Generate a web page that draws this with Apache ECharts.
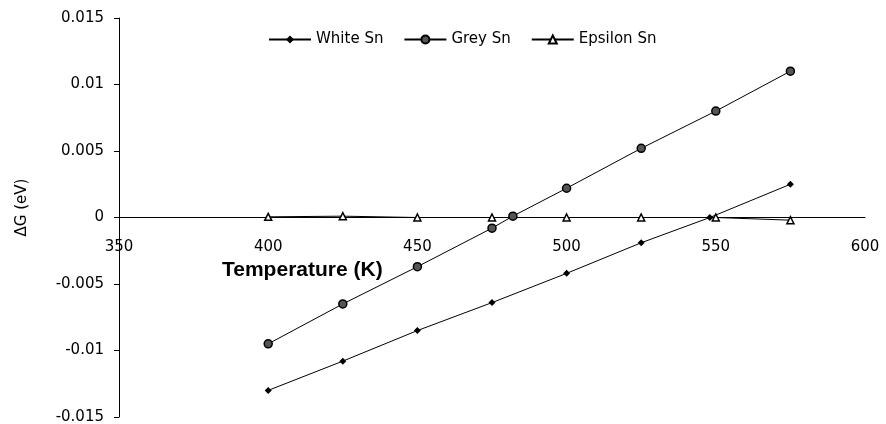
<!DOCTYPE html>
<html>
<head>
<meta charset="utf-8">
<script src="https://cdn.jsdelivr.net/npm/echarts@6/dist/echarts.min.js"></script>
<style>
html,body{margin:0;padding:0;background:#fff;}
#chart{width:886px;height:424px;}
</style>
</head>
<body>
<div id="chart"></div>
<script>
// Data
const xTicks = [350, 400, 450, 500, 550, 600];
const yTicks = [-0.015, -0.01, -0.005, 0, 0.005, 0.01, 0.015];

const whiteT = [400, 425, 450, 475, 500, 525, 548, 575];
const whiteG = [-0.0130, -0.0108, -0.0085, -0.0064, -0.0042, -0.0019, 0.0000, 0.0025];

const greyT = [400, 425, 450, 475, 482, 500, 525, 550, 575];
const greyG = [-0.0095, -0.0065, -0.0037, -0.0008, 0.0001, 0.0022, 0.0052, 0.0080, 0.0110];

const epsT = [400, 425, 450, 475, 500, 525, 550, 575];
const epsG = [0.00005, 0.0001, 0.0000, 0.0000, 0.0000, 0.0000, 0.0000, -0.0002];

const seriesNames = ['White Sn', 'Grey Sn', 'Epsilon Sn'];

function pairs(xs, ys) { return xs.map((x, i) => [x, ys[i]]); }

const chart = echarts.init(document.getElementById('chart'));
const FONT = 'Liberation Sans, Arial, sans-serif';
const WFONT = 'DejaVu Sans, Verdana, sans-serif';
const xMin = xTicks[0], xMax = xTicks[xTicks.length - 1];
const yMin = yTicks[0], yMax = yTicks[yTicks.length - 1];
chart.setOption({
  animation: false,
  backgroundColor: '#fff',
  textStyle: { fontFamily: FONT, color: '#000' },
  grid: [
    { left: 119, right: 21, top: 18, bottom: 7, outerBoundsMode: 'none', containLabel: false },
    // label strip: its bottom edge sits on the zero line of the main plot
    { left: 119, right: 21, top: 18, bottom: 206.5, outerBoundsMode: 'none', containLabel: false }
  ],
  legend: {
    data: seriesNames,
    left: 263, top: 27,
    itemWidth: 42, itemHeight: 10, itemGap: 20,
    textStyle: { fontSize: 15, color: '#000', fontFamily: WFONT }
  },
  xAxis: [
    {
      type: 'value', gridIndex: 0, min: xMin, max: xMax, interval: 50,
      axisLine: { onZero: true, lineStyle: { color: '#000', width: 1 } },
      axisTick: { show: false },
      splitLine: { show: false },
      axisLabel: { show: false },
      name: 'Temperature (K)',
      nameLocation: 'start',
      nameGap: -103,
      nameTextStyle: { align: 'left', verticalAlign: 'top', padding: [42, 0, 0, 0], fontSize: 21, fontWeight: 'bold', color: '#000', fontFamily: FONT }
    },
    {
      type: 'value', gridIndex: 1, min: xMin, max: xMax, interval: 50,
      axisLine: { show: false, onZero: false },
      axisTick: { show: false },
      splitLine: { show: false },
      axisLabel: { margin: 22, fontSize: 15, color: '#000', fontFamily: WFONT }
    }
  ],
  yAxis: [
    {
      type: 'value', gridIndex: 0, min: yMin, max: yMax, interval: 0.005,
      axisLine: { show: true, onZero: false, lineStyle: { color: '#000', width: 1 } },
      axisTick: { show: true, length: 5, lineStyle: { color: '#000' } },
      splitLine: { show: false },
      axisLabel: { margin: 15, fontSize: 15, color: '#000', fontFamily: WFONT },
      name: 'ΔG (eV)',
      nameLocation: 'middle',
      nameGap: 89,
      nameTextStyle: { fontSize: 15, color: '#000', fontFamily: WFONT, padding: [0, 0, 0, 20] }
    },
    {
      type: 'value', gridIndex: 1, min: 0, max: 1, show: false
    }
  ],
  series: [
    {
      name: seriesNames[0], type: 'line', data: pairs(whiteT, whiteG),
      xAxisIndex: 0, yAxisIndex: 0,
      symbol: 'diamond', symbolSize: 7,
      lineStyle: { color: '#000', width: 1 },
      itemStyle: { color: '#000' }
    },
    {
      name: seriesNames[1], type: 'line', data: pairs(greyT, greyG),
      xAxisIndex: 0, yAxisIndex: 0,
      symbol: 'circle', symbolSize: 8,
      lineStyle: { color: '#000', width: 1 },
      itemStyle: { color: '#555', borderColor: '#000', borderWidth: 1.5 }
    },
    {
      name: seriesNames[2], type: 'line', data: pairs(epsT, epsG),
      xAxisIndex: 0, yAxisIndex: 0,
      symbol: 'triangle', symbolSize: 7,
      lineStyle: { color: '#000', width: 1 },
      itemStyle: { color: '#fff', borderColor: '#000', borderWidth: 1.5 }
    }
  ]
});
</script>
</body>
</html>
